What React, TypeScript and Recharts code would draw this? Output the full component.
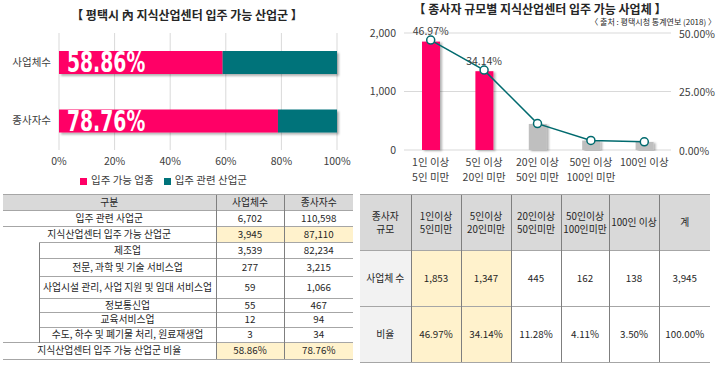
import React from 'react';
import {
  BarChart, Bar, XAxis, YAxis, CartesianGrid, Legend, LabelList,
  ComposedChart, Line, Cell,
} from 'recharts';

// left chart: share of eligible industries
const shareCategories = ['사업체수', '종사자수'];
const eligibleShare = [58.86, 78.76];
const relatedShare = [41.14, 21.24];
const shareTicks = [0, 20, 40, 60, 80, 100];

// right chart: firms by employee size
const sizeCategories = ['1인 이상\n5인 미만', '5인 이상\n20인 미만', '20인 이상\n50인 미만', '50인 이상\n100인 미만', '100인 이상'];
const firmCounts = [1853, 1347, 445, 162, 138];
const firmRates = [46.97, 34.14, 11.28, 4.11, 3.5];
const highlighted = [true, true, false, false, false];
const countTicks = [0, 1000, 2000];
const rateTicks = [0, 25, 50];

// left table
const industryLabels = [
  '입주 관련 사업군',
  '지식산업센터 입주 가능 산업군',
  '제조업',
  '전문, 과학 및 기술 서비스업',
  '사업시설 관리, 사업 지원 및 임대 서비스업',
  '정보통신업',
  '교육서비스업',
  '수도, 하수 및 폐기물 처리, 원료재생업',
  '지식산업센터 입주 가능 산업군 비율',
];
const industryFirms = ['6,702', '3,945', '3,539', '277', '59', '55', '12', '3', '58.86%'];
const industryWorkers = ['110,598', '87,110', '82,234', '3,215', '1,066', '467', '94', '34', '78.76%'];

// right table
const sizeHeads = ['1인이상\n5인미만', '5인이상\n20인미만', '20인이상\n50인미만', '50인이상\n100인미만', '100인 이상', '계'];
const sizeFirmCounts = ['1,853', '1,347', '445', '162', '138', '3,945'];
const sizeFirmRates = ['46.97%', '34.14%', '11.28%', '4.11%', '3.50%', '100.00%'];

const PINK = '#FF0066';
const TEAL = '#00737A';
const LINE = '#006A6E';
const GREY_BAR = '#BFBFBF';
const YELLOW = '#FFF2CC';
const FONT = '"Noto Sans CJK KR", "Noto Sans", sans-serif';

const shareData = shareCategories.map((name, i) => ({
  name, eligible: eligibleShare[i], related: relatedShare[i],
}));

const sizeData = sizeCategories.map((name, i) => ({
  name,
  count: firmCounts[i],
  rate: firmRates[i],
  callout: highlighted[i] ? `${firmRates[i].toFixed(2)}%` : undefined,
}));

const ShadowRect = (p: any) => (
  <rect x={p.x} y={p.y} width={p.width} height={p.height} fill={p.fill} filter="url(#barShadow)" />
);

// big condensed value label inside the pink bar
const ShareLabel = (p: any) => (
  <text
    transform={`translate(${p.x + 8},${p.y + p.height - 2}) scale(0.72,1)`}
    fill="#fff"
    fontSize={29}
    fontWeight="bold"
    fontFamily='"DejaVu Sans Condensed", "DejaVu Sans", sans-serif'
  >
    {Number(p.value).toFixed(2)}%
  </text>
);

const TwoLineTick = ({ x, y, payload }: any) => {
  const lines = String(payload.value).split('\n');
  return (
    <text x={x} y={y} textAnchor="middle" fontSize={10.5} fill="#404040" fontFamily={FONT}>
      {lines.map((l, i) => (
        <tspan key={i} x={x} dy={i === 0 ? '0.75em' : '1.4em'}>{l}</tspan>
      ))}
    </text>
  );
};

const axisTick = { fontSize: 10.5, fill: '#404040', fontFamily: FONT };

function ShareChart() {
  return (
    <BarChart
      layout="vertical"
      width={360}
      height={190}
      data={shareData}
      margin={{ top: 33, right: 23, bottom: 2, left: 0 }}
    >
      <defs>
        <filter id="barShadow" x="-5%" y="-20%" width="115%" height="160%">
          <feDropShadow dx="2" dy="2" stdDeviation="1.2" floodColor="#000" floodOpacity="0.3" />
        </filter>
      </defs>
      <CartesianGrid horizontal={false} stroke="#D9D9D9" />
      <XAxis
        type="number"
        domain={[0, 100]}
        ticks={shareTicks}
        tickFormatter={(v: number) => `${v}%`}
        axisLine={false}
        tickLine={false}
        height={22}
        tick={axisTick}
      />
      <YAxis type="category" dataKey="name" width={59} axisLine={false} tickLine={false} tick={axisTick} />
      <Legend
        verticalAlign="bottom"
        height={16}
        iconType="square"
        iconSize={7}
        wrapperStyle={{ fontSize: 10.5, fontFamily: FONT, color: '#404040' }}
        formatter={(v: string) => <span style={{ color: '#404040' }}>{v}</span>}
      />
      <Bar dataKey="eligible" name="입주 가능 업종" stackId="s" fill={PINK} barSize={23} shape={ShadowRect} isAnimationActive={false}>
        <LabelList dataKey="eligible" content={ShareLabel} />
      </Bar>
      <Bar dataKey="related" name="입주 관련 산업군" stackId="s" fill={TEAL} barSize={23} shape={ShadowRect} isAnimationActive={false} />
    </BarChart>
  );
}

function SizeChart() {
  return (
    <ComposedChart
      width={360}
      height={190}
      data={sizeData}
      margin={{ top: 33, right: 0, bottom: 0, left: 0 }}
    >
      <defs>
        <filter id="colShadow" x="-20%" y="-5%" width="160%" height="115%">
          <feDropShadow dx="2" dy="1" stdDeviation="1.2" floodColor="#000" floodOpacity="0.3" />
        </filter>
      </defs>
      <CartesianGrid vertical={false} stroke="#D9D9D9" />
      <XAxis dataKey="name" axisLine={false} tickLine={false} height={40} tick={<TwoLineTick />} interval={0} />
      <YAxis
        domain={[0, 2000]}
        ticks={countTicks}
        tickFormatter={(v: number) => v.toLocaleString('en-US')}
        width={44}
        axisLine={false}
        tickLine={false}
        tick={axisTick}
      />
      <YAxis
        yAxisId="right"
        orientation="right"
        domain={[0, 50]}
        ticks={rateTicks}
        tickFormatter={(v: number) => `${v.toFixed(2)}%`}
        width={49}
        axisLine={false}
        tickLine={false}
        tick={{ ...axisTick, dy: 1 }}
      />
      <Bar
        dataKey="count"
        barSize={18}
        isAnimationActive={false}
        shape={(p: any) => (
          <rect x={p.x} y={p.y} width={p.width} height={p.height} fill={p.fill} filter="url(#colShadow)" />
        )}
      >
        {sizeData.map((_, i) => (
          <Cell key={i} fill={highlighted[i] ? PINK : GREY_BAR} />
        ))}
      </Bar>
      <Line
        yAxisId="right"
        dataKey="rate"
        stroke={LINE}
        strokeWidth={1.5}
        dot={{ r: 4, fill: '#fff', stroke: LINE, strokeWidth: 1.5 }}
        isAnimationActive={false}
      >
        <LabelList dataKey="callout" position="top" offset={5} fontSize={10.5} fill="#404040" fontFamily={FONT} />
      </Line>
    </ComposedChart>
  );
}

const hLine = '1px solid #A6A6A6';
const vLine = '1px solid #7F7F7F';

function IndustryTable() {
  const rowH = [16, 16, 16, 18, 22, 14, 15, 15, 17];
  const cell: React.CSSProperties = { borderTop: hLine, padding: 0, textAlign: 'center', verticalAlign: 'middle', whiteSpace: 'nowrap' };
  return (
    <table
      style={{
        position: 'absolute', left: 3, top: 194, width: 350, borderCollapse: 'collapse',
        tableLayout: 'fixed', fontSize: 9.8, color: '#262626', fontFamily: FONT, lineHeight: 1,
      }}
    >
      <colgroup>
        <col style={{ width: 36 }} />
        <col style={{ width: 177 }} />
        <col style={{ width: 68 }} />
        <col style={{ width: 69 }} />
      </colgroup>
      <tbody>
        <tr style={{ height: 16, background: '#D9D9D9' }}>
          <td colSpan={2} style={cell}>구분</td>
          <td style={{ ...cell, borderLeft: vLine }}>사업체수</td>
          <td style={{ ...cell, borderLeft: vLine }}>종사자수</td>
        </tr>
        {industryLabels.map((label, i) => {
          const sub = i >= 2 && i <= 7;
          const yellow = i === 1 || i === 8;
          const last = i === industryLabels.length - 1;
          const c = { ...cell, borderBottom: last ? hLine : undefined };
          return (
            <tr key={i} style={{ height: rowH[i] }}>
              {i === 2 && <td rowSpan={6} style={{ padding: 0 }} />}
              {sub ? (
                <td style={{ ...c, borderLeft: vLine }}>{label}</td>
              ) : (
                <td colSpan={2} style={c}>{label}</td>
              )}
              <td style={{ ...c, borderLeft: vLine, background: yellow ? YELLOW : '#fff' }}>{industryFirms[i]}</td>
              <td style={{ ...c, borderLeft: vLine, background: yellow ? YELLOW : '#fff' }}>{industryWorkers[i]}</td>
            </tr>
          );
        })}
      </tbody>
    </table>
  );
}

function SizeTable() {
  const widths = [51, 50, 50, 50, 48, 50, 51];
  const cell: React.CSSProperties = {
    borderTop: hLine, padding: 0, textAlign: 'center', verticalAlign: 'middle', whiteSpace: 'pre-line',
  };
  const bodyRow = (head: string, vals: string[], last: boolean) => (
    <tr style={{ height: 56 }}>
      <td style={{ ...cell, background: '#F2F2F2', borderBottom: last ? hLine : undefined }}>{head}</td>
      {vals.map((v, i) => (
        <td
          key={i}
          style={{
            ...cell,
            borderLeft: vLine,
            borderBottom: last ? hLine : undefined,
            background: i < highlighted.length && highlighted[i] ? YELLOW : '#fff',
          }}
        >
          {v}
        </td>
      ))}
    </tr>
  );
  return (
    <table
      style={{
        position: 'absolute', left: 360, top: 194, width: 350, borderCollapse: 'collapse',
        tableLayout: 'fixed', fontSize: 9.8, color: '#262626', fontFamily: FONT, lineHeight: 1.25,
      }}
    >
      <colgroup>
        {widths.map((w, i) => <col key={i} style={{ width: w }} />)}
      </colgroup>
      <tbody>
        <tr style={{ height: 56, background: '#D9D9D9' }}>
          <td style={cell}>{'종사자\n규모'}</td>
          {sizeHeads.map((h, i) => (
            <td key={i} style={{ ...cell, borderLeft: vLine }}>{h}</td>
          ))}
        </tr>
        {bodyRow('사업체 수', sizeFirmCounts, false)}
        {bodyRow('비율', sizeFirmRates, true)}
      </tbody>
    </table>
  );
}

export default function App() {
  return (
    <div
      style={{
        position: 'absolute', left: 0, top: 0, width: 720, height: 365, background: '#fff',
        overflow: 'hidden', fontFamily: FONT, color: '#262626',
      }}
    >
      <div style={{ position: 'absolute', left: 0, top: 7, width: 374, textAlign: 'center', fontSize: 12, lineHeight: '16px', fontWeight: 'bold' }}>
        【 평택시 內 지식산업센터 입주 가능 산업군 】
      </div>
      <div style={{ position: 'absolute', left: 360, top: 3, width: 360, textAlign: 'center', fontSize: 12, lineHeight: '12px', fontWeight: 'bold' }}>
        【 종사자 규모별 지식산업센터 입주 가능 사업체 】
      </div>
      <div style={{ position: 'absolute', right: 4, top: 18, fontSize: 8, lineHeight: '8px' }}>
        〈 출처 : 평택시청 통계연보 (2018) 〉
      </div>
      <div style={{ position: 'absolute', left: 0, top: 0 }}>
        <ShareChart />
      </div>
      <div style={{ position: 'absolute', left: 360, top: 0 }}>
        <SizeChart />
      </div>
      <IndustryTable />
      <SizeTable />
    </div>
  );
}
